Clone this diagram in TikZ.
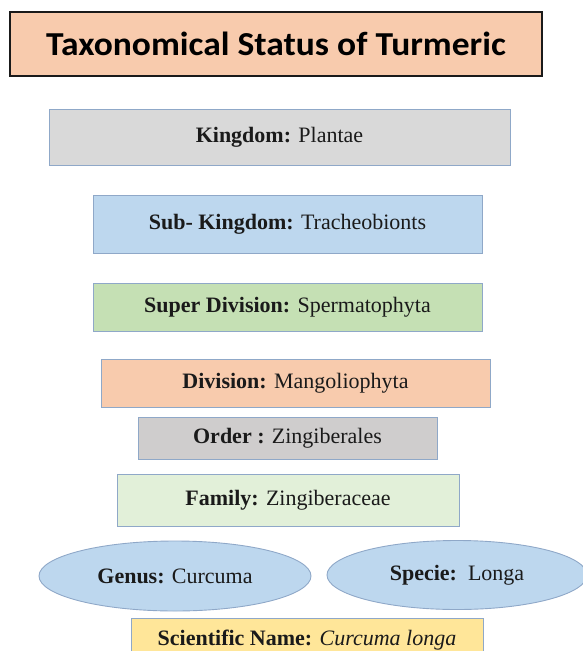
\documentclass[tikz,border=0pt]{standalone}
\usepackage{fontspec}
\setmainfont{Liberation Serif}
\newfontfamily\titlefont[FakeStretch=1.06]{Carlito}
\usetikzlibrary{shapes.geometric}
\definecolor{TaxonPeach}{HTML}{F8CBAD}
\definecolor{TaxonGray}{HTML}{D9D9D9}
\definecolor{TaxonDarkGray}{HTML}{CFCDCD}
\definecolor{TaxonBlue}{HTML}{BDD7EE}
\definecolor{TaxonGreen}{HTML}{C5E0B4}
\definecolor{TaxonPaleGreen}{HTML}{E2F0D9}
\definecolor{TaxonGold}{HTML}{FFE699}
\definecolor{TaxonEdge}{HTML}{8FA8C8}
\definecolor{TaxonInk}{HTML}{1A1A1A}
\tikzset{
    taxon/diagram/.style={
        x=1pt, y=-1pt,
        every node/.style={inner sep=0pt, outer sep=0pt}
    },
    taxon/text/.style={
        font=\fontsize{22}{26}\selectfont, text=TaxonInk
    },
    taxon/title/.style={
        draw=TaxonInk, line width=1.6pt, fill=TaxonPeach,
        font=\titlefont\bfseries\fontsize{33.5}{38}\selectfont,
        text=black
    },
    taxon/rank/.style={
        taxon/text, rectangle, draw=TaxonEdge, line width=0.9pt
    },
    taxon/oval/.style={
        taxon/text, ellipse, draw=TaxonEdge, line width=0.9pt,
        fill=TaxonBlue
    }
}

\begin{document}
\begin{tikzpicture}[taxon/diagram]
    \useasboundingbox (0,0) rectangle (583,651);
    % heading
    \node[taxon/title, minimum width=532pt, minimum height=64pt]
        (title) at (276,44) {Taxonomical Status of Turmeric};
    % ranks, top to bottom
    \node[taxon/rank, fill=TaxonGray, minimum width=461pt, minimum height=56pt]
        (kingdom) at (279.5,137) {\textbf{Kingdom:} Plantae};
    \node[taxon/rank, fill=TaxonBlue, minimum width=389pt, minimum height=58pt]
        (subkingdom) at (287.5,224) {\textbf{Sub- Kingdom:} Tracheobionts};
    \node[taxon/rank, fill=TaxonGreen, minimum width=389pt, minimum height=48pt]
        (superdivision) at (287.5,307) {\textbf{Super Division:} Spermatophyta};
    \node[taxon/rank, fill=TaxonPeach, minimum width=389pt, minimum height=48pt]
        (division) at (295.5,383) {\textbf{Division:} Mangoliophyta};
    \node[taxon/rank, fill=TaxonDarkGray, minimum width=299pt, minimum height=42pt]
        (order) at (287.5,438) {\textbf{Order :} Zingiberales};
    \node[taxon/rank, fill=TaxonPaleGreen, minimum width=342pt, minimum height=52pt]
        (family) at (288,500) {\textbf{Family:} Zingiberaceae};
    % genus and species side by side
    \node[taxon/oval, minimum width=272pt, minimum height=70pt]
        (genus) at (175,576) {\textbf{Genus:} Curcuma};
    \node[taxon/oval, minimum width=260pt, minimum height=69pt]
        (specie) at (457,575) {\textbf{Specie:}\ \ Longa};
    \node[taxon/rank, fill=TaxonGold, minimum width=352pt, minimum height=44pt]
        (sciname) at (307,640) {\textbf{Scientific Name:} \textit{Curcuma longa}};
\end{tikzpicture}
\end{document}
